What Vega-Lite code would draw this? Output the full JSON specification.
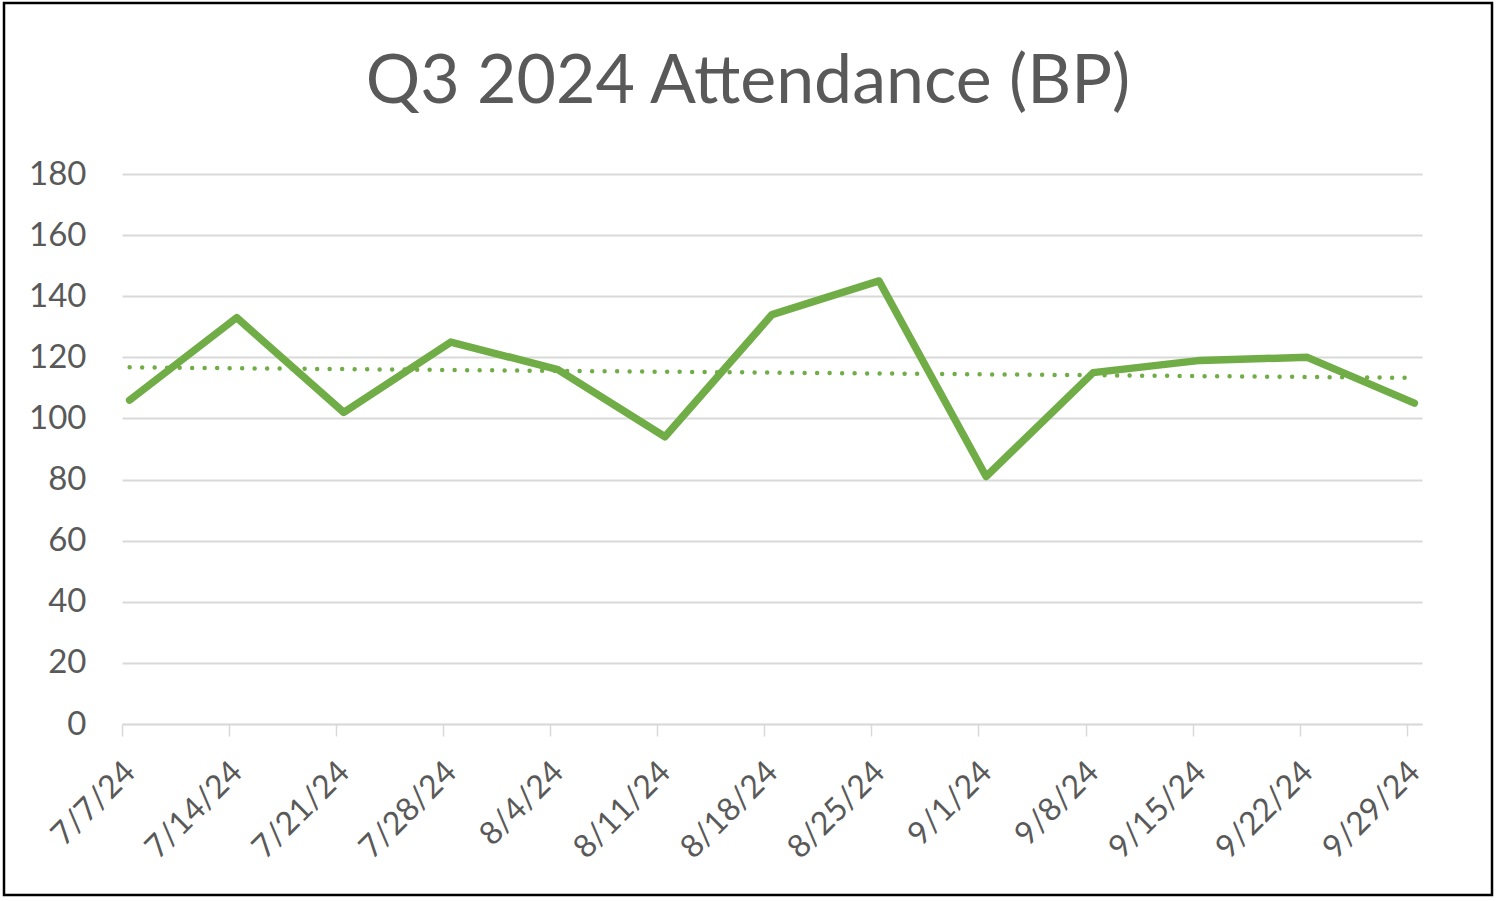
{
  "$schema": "https://vega.github.io/schema/vega-lite/v6.json",
  "width": 1488,
  "height": 892,
  "autosize": {"type": "none"},
  "padding": {"left": 4, "top": 3, "right": 8, "bottom": 6},
  "background": "white",
  "title": {
    "text": "Q3 2024 Attendance (BP)",
    "font": "Lato",
    "fontSize": 68,
    "fontWeight": "normal",
    "color": "#595959",
    "frame": "group",
    "anchor": "middle",
    "baseline": "alphabetic",
    "offset": -99,
    "dy": 69
  },
  "data": {
    "values": [
      {"date": "2024-07-07", "attendance": 106},
      {"date": "2024-07-14", "attendance": 133},
      {"date": "2024-07-21", "attendance": 102},
      {"date": "2024-07-28", "attendance": 125},
      {"date": "2024-08-04", "attendance": 116},
      {"date": "2024-08-11", "attendance": 94},
      {"date": "2024-08-18", "attendance": 134},
      {"date": "2024-08-25", "attendance": 145},
      {"date": "2024-09-01", "attendance": 81},
      {"date": "2024-09-08", "attendance": 115},
      {"date": "2024-09-15", "attendance": 119},
      {"date": "2024-09-22", "attendance": 120},
      {"date": "2024-09-29", "attendance": 105}
    ],
    "format": {"parse": {"date": "utc:'%Y-%m-%d'"}}
  },
  "encoding": {
    "x": {
      "field": "date",
      "type": "temporal",
      "timeUnit": "utcyearmonthdate",
      "bandPosition": 0.5,
      "scale": {
        "type": "utc",
        "domain": [
          {"year": 2024, "month": 7, "date": 7, "utc": true},
          {"year": 2024, "month": 9, "date": 30, "utc": true}
        ],
        "range": [118, 1418]
      },
      "axis": {
        "title": null,
        "orient": "bottom",
        "offset": -171,
        "values": [
          {"year": 2024, "month": 7, "date": 7, "utc": true},
          {"year": 2024, "month": 7, "date": 14, "utc": true},
          {"year": 2024, "month": 7, "date": 21, "utc": true},
          {"year": 2024, "month": 7, "date": 28, "utc": true},
          {"year": 2024, "month": 8, "date": 4, "utc": true},
          {"year": 2024, "month": 8, "date": 11, "utc": true},
          {"year": 2024, "month": 8, "date": 18, "utc": true},
          {"year": 2024, "month": 8, "date": 25, "utc": true},
          {"year": 2024, "month": 9, "date": 1, "utc": true},
          {"year": 2024, "month": 9, "date": 8, "utc": true},
          {"year": 2024, "month": 9, "date": 15, "utc": true},
          {"year": 2024, "month": 9, "date": 22, "utc": true},
          {"year": 2024, "month": 9, "date": 29, "utc": true}
        ],
        "labelExpr": "utcFormat(datum.value, '%-m/%-d/%y')",
        "grid": false,
        "domainColor": "#d9d9d9",
        "domainWidth": 1.5,
        "tickColor": "#d9d9d9",
        "tickWidth": 1.5,
        "tickSize": 12,
        "labelAngle": -45,
        "labelAlign": "right",
        "labelBaseline": "top",
        "labelPadding": 20,
        "labelOffset": -3,
        "labelFont": "Lato",
        "labelFontSize": 32,
        "labelColor": "#595959",
        "labelLimit": 0,
        "labelFlush": false,
        "labelOverlap": false,
        "labelBound": false
      }
    },
    "y": {
      "field": "attendance",
      "type": "quantitative",
      "scale": {"domain": [0, 180], "range": [721, 171], "nice": false},
      "axis": {
        "title": null,
        "orient": "left",
        "offset": -86,
        "values": [0, 20, 40, 60, 80, 100, 120, 140, 160, 180],
        "domain": false,
        "ticks": false,
        "tickSize": 0,
        "labelPadding": 4,
        "labelFont": "Lato",
        "labelFontSize": 33,
        "labelColor": "#595959",
        "grid": true,
        "gridColor": "#d9d9d9",
        "gridWidth": 2
      }
    }
  },
  "layer": [
    {
      "mark": {
        "type": "line",
        "color": "#70AD47",
        "strokeWidth": 7.5,
        "strokeCap": "round",
        "strokeJoin": "round"
      }
    },
    {
      "transform": [{"regression": "attendance", "on": "date"}],
      "mark": {
        "type": "line",
        "color": "#70AD47",
        "strokeWidth": 4.5,
        "strokeCap": "round",
        "strokeDash": [0, 12.5]
      }
    }
  ],
  "config": {
    "view": {"stroke": "#000000", "strokeWidth": 2.5}
  }
}
